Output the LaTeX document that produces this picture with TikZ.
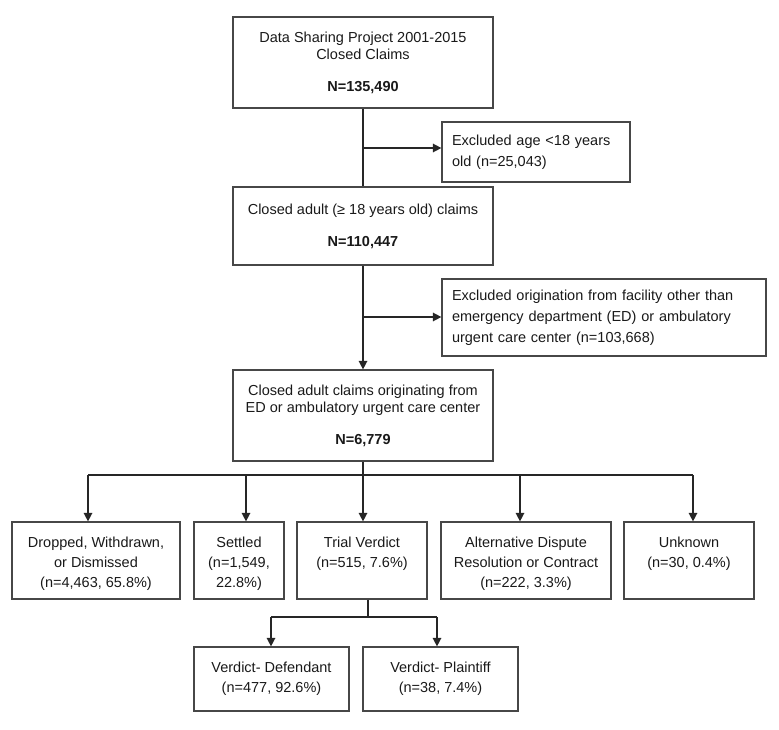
\documentclass[tikz,border=0pt]{standalone}
\usepackage{fontspec}
\setmainfont{Liberation Sans}
\usetikzlibrary{arrows.meta}
\begin{document}
\begin{tikzpicture}[x=1pt,y=-1pt,
  basebox/.style={draw=black!72, line width=1.2pt, text=black!90},
  mainbox/.style={basebox, inner sep=0pt, align=center, font=\fontsize{14.5}{17}\selectfont, minimum width=260pt},
  exbox/.style={basebox, inner xsep=10pt, inner ysep=0pt, align=left, font=\fontsize{14.5}{21}\selectfont},
  botbox/.style={basebox, inner sep=0pt, font=\fontsize{14.5}{20}\selectfont},
  verbox/.style={basebox, inner sep=0pt, align=center, font=\fontsize{14.5}{20}\selectfont, minimum width=155pt, minimum height=64pt},
  conn/.style={draw=black!85, line width=1.4pt},
  arr/.style={conn, -{Triangle[length=8.5pt,width=8.5pt]}}]
\useasboundingbox (0,0) rectangle (779,730);

% main column
\node[mainbox, minimum height=91pt] (b1) at (363,62.5)
  {Data Sharing Project 2001-2015\\Closed Claims\\[15pt]\textbf{N=135,490}};
\node[mainbox, minimum height=78pt] (b2) at (363,226)
  {Closed adult (≥ 18 years old) claims\\[15pt]\textbf{N=110,447}};
\node[mainbox, minimum height=91pt] (b3) at (363,415.5)
  {Closed adult claims originating from\\ED or ambulatory urgent care center\\[15pt]\textbf{N=6,779}};

% exclusions
\node[exbox, text width=168pt, minimum height=60pt] (e1) at (536,152)
  {Excluded age <18 years\\old (n=25,043)};
\node[exbox, text width=304pt, minimum height=77pt] (e2) at (604,317.5)
  {Excluded origination from facility other than\\emergency department (ED) or ambulatory\\urgent care center (n=103,668)};

% outcome boxes
\node[botbox] (oa) at (96,560.5)
  {\parbox[c][77pt][t]{168pt}{\centering\rule{0pt}{25pt}Dropped, Withdrawn,\\or Dismissed\\(n=4,463, 65.8\%)}};
\node[botbox] (ob) at (239,560.5)
  {\parbox[c][77pt][t]{90pt}{\centering\rule{0pt}{25pt}Settled\\(n=1,549,\\22.8\%)}};
\node[botbox] (oc) at (362,560.5)
  {\parbox[c][77pt][t]{130pt}{\centering\rule{0pt}{25pt}Trial Verdict\\(n=515, 7.6\%)}};
\node[botbox] (od) at (526,560.5)
  {\parbox[c][77pt][t]{170pt}{\centering\rule{0pt}{25pt}Alternative Dispute\\Resolution or Contract\\(n=222, 3.3\%)}};
\node[botbox] (oe) at (689,560.5)
  {\parbox[c][77pt][t]{130pt}{\centering\rule{0pt}{25pt}Unknown\\(n=30, 0.4\%)}};

% verdict boxes
\node[verbox] (vd) at (271.5,679) {Verdict- Defendant\\(n=477, 92.6\%)};
\node[verbox] (vp) at (440.5,679) {Verdict- Plaintiff\\(n=38, 7.4\%)};

% connectors main column
\draw[conn] (b1.south) -- (b2.north);
\coordinate (j1) at (363,148);
\draw[arr] (j1) -- (j1 -| e1.west);
\draw[arr] (b2.south) -- (b3.north);
\coordinate (j2) at (363,317);
\draw[arr] (j2) -- (j2 -| e2.west);

% bus to outcomes
\coordinate (bus) at (363,475);
\coordinate (bl) at (88,475);
\coordinate (bb) at (246,475);
\coordinate (bd) at (520,475);
\coordinate (br) at (693,475);
\draw[conn] (b3.south) -- (bus);
\draw[conn] (bl) -- (br);
\draw[arr] (bl) -- (bl |- oa.north);
\draw[arr] (bb) -- (bb |- ob.north);
\draw[arr] (bus) -- (bus |- oc.north);
\draw[arr] (bd) -- (bd |- od.north);
\draw[arr] (br) -- (br |- oe.north);

% trial verdict split
\coordinate (t0) at (368,617);
\coordinate (tl) at (271,617);
\coordinate (tr) at (437,617);
\draw[conn] (t0 |- oc.south) -- (t0);
\draw[conn] (tl) -- (tr);
\draw[arr] (tl) -- (tl |- vd.north);
\draw[arr] (tr) -- (tr |- vp.north);
\end{tikzpicture}
\end{document}
